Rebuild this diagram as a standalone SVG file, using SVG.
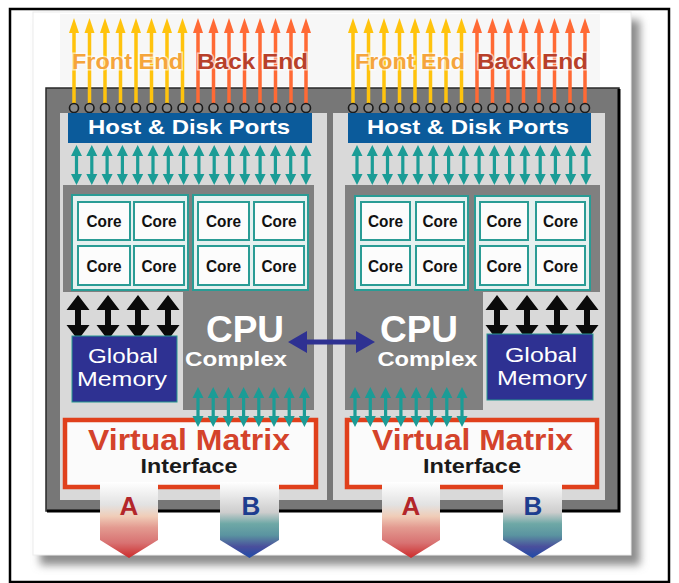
<svg xmlns="http://www.w3.org/2000/svg" xmlns:xlink="http://www.w3.org/1999/xlink" width="679" height="583" viewBox="0 0 679 583">
  <style>
    text { font-family: "Liberation Sans", Arial, sans-serif; }
    .port-lbl { font-size: 21px; font-weight: bold; fill: #ffffff; }
    .core-box { fill: #fcfcfc; stroke: #2a9c95; stroke-width: 2; }
    .core-grp { fill: #e6f1f0; stroke: #2a9c95; stroke-width: 2; }
    .core-lbl { font-size: 16px; font-weight: bold; fill: #111111; text-anchor: middle; }
    .cpu-big { font-size: 37px; font-weight: bold; fill: #ffffff; text-anchor: middle; }
    .cpu-small { font-size: 20px; fill: #ffffff; font-weight: bold; text-anchor: middle; }
    .mem-box { fill: #2e3192; stroke: #27988f; stroke-width: 1; }
    .mem-lbl { font-size: 21px; fill: #ffffff; text-anchor: middle; }
    .vm-box { fill: #fbfbfb; stroke: #e0401c; stroke-width: 4.5; }
    .vm-big { font-size: 29px; font-weight: bold; fill: #d4432b; text-anchor: middle; }
    .vm-small { font-size: 20px; font-weight: bold; fill: #1a1a1a; text-anchor: middle; }
    .end-lbl { font-size: 22px; font-weight: bold; stroke: #ffffff; stroke-opacity: 0.6; stroke-width: 3; paint-order: stroke; }
    .ab-lbl { font-size: 26px; font-weight: bold; text-anchor: middle; }
    .port-dot { fill: #8a8a8a; stroke: #1a1a1a; stroke-width: 1.6; }
    .light { fill: #d9d9d9; }
    .cpu-fill { fill: #808080; }
  </style>
  <defs>
    <filter id="card-shadow" x="-10%" y="-10%" width="120%" height="120%">
      <feGaussianBlur stdDeviation="4"/>
    </filter>
    <linearGradient id="grad-a" x1="0" y1="0" x2="0" y2="1">
      <stop offset="0" stop-color="#ffffff"/>
      <stop offset="0.3" stop-color="#e2e2e2"/>
      <stop offset="0.45" stop-color="#f0cdb8"/>
      <stop offset="0.6" stop-color="#e39a90"/>
      <stop offset="0.8" stop-color="#d87272"/>
      <stop offset="1" stop-color="#cc2a2a"/>
    </linearGradient>
    <linearGradient id="grad-b" x1="0" y1="0" x2="0" y2="1">
      <stop offset="0" stop-color="#ffffff"/>
      <stop offset="0.4" stop-color="#cdcdcd"/>
      <stop offset="0.55" stop-color="#6ea8a6"/>
      <stop offset="0.7" stop-color="#5a94a0"/>
      <stop offset="0.85" stop-color="#4a4f9c"/>
      <stop offset="1" stop-color="#1f4aa8"/>
    </linearGradient>
    <!-- upward port arrows -->
    <g id="up-yellow" fill="#ffc30d">
      <rect x="-1.75" y="31" width="3.5" height="76"/>
      <path d="M-5,33 L0,18 L5,33 Z"/>
    </g>
    <g id="up-orange" fill="#ff6a35">
      <rect x="-1.75" y="31" width="3.5" height="76"/>
      <path d="M-5,33 L0,18 L5,33 Z"/>
    </g>
    <!-- teal two-way link -->
    <g id="teal-dbl" fill="#1b9c96">
      <rect x="-1.6" y="152" width="3.2" height="26"/>
      <path d="M-5.5,156 L0,145 L5.5,156 Z M-5.5,174 L0,185 L5.5,174 Z"/>
    </g>
    <!-- black two-way memory link -->
    <g id="blk-dbl" fill="#0a0a0a">
      <rect x="-3" y="306" width="6" height="24"/>
      <path d="M-11.5,310 L0,295 L11.5,310 Z M-11.5,325 L0,340 L11.5,325 Z"/>
    </g>
  </defs>

  <!-- outer frame -->
  <rect x="0" y="0" width="679" height="583" fill="#ffffff"/>
  <rect x="10" y="9" width="659" height="573" fill="none" stroke="#000000" stroke-width="2.5"/>

  <!-- card with soft shadow -->
  <rect x="40" y="20" width="600" height="545" fill="#8c8c8c" filter="url(#card-shadow)"/>
  <rect x="33" y="12" width="598" height="543" fill="#ffffff" stroke="#ececec" stroke-width="1"/>
  <rect x="60" y="14" width="540" height="72" fill="#f7f7f7"/>

  <!-- chassis panel -->
  <g id="chassis">
    <rect x="46" y="88" width="573" height="423" fill="#777777" stroke="#2a2a2a" stroke-width="1.5"/>
    <path d="M619,89 V511 H47" fill="none" stroke="#000000" stroke-width="3"/>
    <rect class="light" x="60" y="113" width="267" height="387"/>
    <rect class="light" x="333" y="113" width="272" height="387"/>
    <path class="cpu-fill" d="M63,185 H314 V410 H183 V292 H63 Z"/>
    <path class="cpu-fill" d="M345,185 H600 V292 H483 V410 H345 Z"/>
  </g>

  <!-- connectors -->
  <g id="connectors">
    <!-- front end / back end port arrows, left director -->
    <use xlink:href="#up-yellow" x="74"/>
    <use xlink:href="#up-yellow" x="89.5"/>
    <use xlink:href="#up-yellow" x="105"/>
    <use xlink:href="#up-yellow" x="120.5"/>
    <use xlink:href="#up-yellow" x="136"/>
    <use xlink:href="#up-yellow" x="151.5"/>
    <use xlink:href="#up-yellow" x="167"/>
    <use xlink:href="#up-yellow" x="182.5"/>
    <use xlink:href="#up-orange" x="198"/>
    <use xlink:href="#up-orange" x="213.5"/>
    <use xlink:href="#up-orange" x="229"/>
    <use xlink:href="#up-orange" x="244.5"/>
    <use xlink:href="#up-orange" x="260"/>
    <use xlink:href="#up-orange" x="275.5"/>
    <use xlink:href="#up-orange" x="291"/>
    <use xlink:href="#up-orange" x="306"/>
    <!-- right director -->
    <use xlink:href="#up-yellow" x="353"/>
    <use xlink:href="#up-yellow" x="368.5"/>
    <use xlink:href="#up-yellow" x="384"/>
    <use xlink:href="#up-yellow" x="399.5"/>
    <use xlink:href="#up-yellow" x="415"/>
    <use xlink:href="#up-yellow" x="430.5"/>
    <use xlink:href="#up-yellow" x="446"/>
    <use xlink:href="#up-yellow" x="461.5"/>
    <use xlink:href="#up-orange" x="477"/>
    <use xlink:href="#up-orange" x="492.5"/>
    <use xlink:href="#up-orange" x="508"/>
    <use xlink:href="#up-orange" x="523.5"/>
    <use xlink:href="#up-orange" x="539"/>
    <use xlink:href="#up-orange" x="554.5"/>
    <use xlink:href="#up-orange" x="570"/>
    <use xlink:href="#up-orange" x="585"/>

    <!-- port sockets -->
    <g>
      <circle class="port-dot" cx="74" cy="108" r="4.5"/>
      <circle class="port-dot" cx="89.5" cy="108" r="4.5"/>
      <circle class="port-dot" cx="105" cy="108" r="4.5"/>
      <circle class="port-dot" cx="120.5" cy="108" r="4.5"/>
      <circle class="port-dot" cx="136" cy="108" r="4.5"/>
      <circle class="port-dot" cx="151.5" cy="108" r="4.5"/>
      <circle class="port-dot" cx="167" cy="108" r="4.5"/>
      <circle class="port-dot" cx="182.5" cy="108" r="4.5"/>
      <circle class="port-dot" cx="198" cy="108" r="4.5"/>
      <circle class="port-dot" cx="213.5" cy="108" r="4.5"/>
      <circle class="port-dot" cx="229" cy="108" r="4.5"/>
      <circle class="port-dot" cx="244.5" cy="108" r="4.5"/>
      <circle class="port-dot" cx="260" cy="108" r="4.5"/>
      <circle class="port-dot" cx="275.5" cy="108" r="4.5"/>
      <circle class="port-dot" cx="291" cy="108" r="4.5"/>
      <circle class="port-dot" cx="306" cy="108" r="4.5"/>
      <circle class="port-dot" cx="353" cy="108" r="4.5"/>
      <circle class="port-dot" cx="368.5" cy="108" r="4.5"/>
      <circle class="port-dot" cx="384" cy="108" r="4.5"/>
      <circle class="port-dot" cx="399.5" cy="108" r="4.5"/>
      <circle class="port-dot" cx="415" cy="108" r="4.5"/>
      <circle class="port-dot" cx="430.5" cy="108" r="4.5"/>
      <circle class="port-dot" cx="446" cy="108" r="4.5"/>
      <circle class="port-dot" cx="461.5" cy="108" r="4.5"/>
      <circle class="port-dot" cx="477" cy="108" r="4.5"/>
      <circle class="port-dot" cx="492.5" cy="108" r="4.5"/>
      <circle class="port-dot" cx="508" cy="108" r="4.5"/>
      <circle class="port-dot" cx="523.5" cy="108" r="4.5"/>
      <circle class="port-dot" cx="539" cy="108" r="4.5"/>
      <circle class="port-dot" cx="554.5" cy="108" r="4.5"/>
      <circle class="port-dot" cx="570" cy="108" r="4.5"/>
      <circle class="port-dot" cx="585" cy="108" r="4.5"/>
    </g>

    <!-- port block to CPU links, left -->
    <use xlink:href="#teal-dbl" x="76.5"/>
    <use xlink:href="#teal-dbl" x="91.8"/>
    <use xlink:href="#teal-dbl" x="107.1"/>
    <use xlink:href="#teal-dbl" x="122.4"/>
    <use xlink:href="#teal-dbl" x="137.7"/>
    <use xlink:href="#teal-dbl" x="153"/>
    <use xlink:href="#teal-dbl" x="168.3"/>
    <use xlink:href="#teal-dbl" x="183.6"/>
    <use xlink:href="#teal-dbl" x="198.9"/>
    <use xlink:href="#teal-dbl" x="214.2"/>
    <use xlink:href="#teal-dbl" x="229.5"/>
    <use xlink:href="#teal-dbl" x="244.8"/>
    <use xlink:href="#teal-dbl" x="260.1"/>
    <use xlink:href="#teal-dbl" x="275.4"/>
    <use xlink:href="#teal-dbl" x="290.7"/>
    <use xlink:href="#teal-dbl" x="306"/>
    <!-- right -->
    <use xlink:href="#teal-dbl" x="357"/>
    <use xlink:href="#teal-dbl" x="372.3"/>
    <use xlink:href="#teal-dbl" x="387.5"/>
    <use xlink:href="#teal-dbl" x="402.8"/>
    <use xlink:href="#teal-dbl" x="418"/>
    <use xlink:href="#teal-dbl" x="433.3"/>
    <use xlink:href="#teal-dbl" x="448.6"/>
    <use xlink:href="#teal-dbl" x="463.8"/>
    <use xlink:href="#teal-dbl" x="479.1"/>
    <use xlink:href="#teal-dbl" x="494.4"/>
    <use xlink:href="#teal-dbl" x="509.6"/>
    <use xlink:href="#teal-dbl" x="524.9"/>
    <use xlink:href="#teal-dbl" x="540.2"/>
    <use xlink:href="#teal-dbl" x="555.4"/>
    <use xlink:href="#teal-dbl" x="570.7"/>
    <use xlink:href="#teal-dbl" x="586"/>

    <!-- memory links -->
    <use xlink:href="#blk-dbl" x="78"/>
    <use xlink:href="#blk-dbl" x="108"/>
    <use xlink:href="#blk-dbl" x="138"/>
    <use xlink:href="#blk-dbl" x="168"/>
    <use xlink:href="#blk-dbl" x="497"/>
    <use xlink:href="#blk-dbl" x="527"/>
    <use xlink:href="#blk-dbl" x="557"/>
    <use xlink:href="#blk-dbl" x="587"/>

    <!-- CPU to CPU link -->
    <path d="M288,342 L307,331 L307,339.5 L356,339.5 L356,331 L375,342 L356,353 L356,344.5 L307,344.5 L307,353 Z" fill="#2e3192"/>
  </g>

  <!-- port block labels -->
  <g id="port-labels">
    <text class="end-lbl" x="72" y="69" fill="#f5a53c" textLength="111" lengthAdjust="spacingAndGlyphs">Front End</text>
    <text class="end-lbl" x="197" y="69" fill="#b8402a" textLength="111" lengthAdjust="spacingAndGlyphs">Back End</text>
    <text class="end-lbl" x="355" y="69" fill="#f5a53c" textLength="110" lengthAdjust="spacingAndGlyphs">Front End</text>
    <text class="end-lbl" x="477" y="69" fill="#b8402a" textLength="111" lengthAdjust="spacingAndGlyphs">Back End</text>
  </g>

  <!-- host & disk ports -->
  <g id="ports-left">
    <rect x="68" y="113" width="244" height="30" fill="#0b5b9b"/>
    <text class="port-lbl" x="88" y="133.5" textLength="202" lengthAdjust="spacingAndGlyphs">Host &amp; Disk Ports</text>
  </g>
  <g id="ports-right">
    <rect x="348" y="113" width="243" height="30" fill="#0b5b9b"/>
    <text class="port-lbl" x="367" y="133.5" textLength="202" lengthAdjust="spacingAndGlyphs">Host &amp; Disk Ports</text>
  </g>

  <!-- processor cores, left -->
  <g id="cores-left">
    <rect class="core-grp" x="72" y="195" width="116" height="95"/>
    <rect class="core-grp" x="193" y="195" width="115" height="95"/>
    <rect class="core-box" x="78" y="202" width="52" height="38"/>
    <rect class="core-box" x="134" y="202" width="50" height="38"/>
    <rect class="core-box" x="198" y="202" width="51" height="38"/>
    <rect class="core-box" x="254" y="202" width="50" height="38"/>
    <rect class="core-box" x="78" y="246" width="52" height="39"/>
    <rect class="core-box" x="134" y="246" width="50" height="39"/>
    <rect class="core-box" x="198" y="246" width="51" height="39"/>
    <rect class="core-box" x="254" y="246" width="50" height="39"/>
    <text class="core-lbl" x="104" y="227" textLength="35" lengthAdjust="spacingAndGlyphs">Core</text>
    <text class="core-lbl" x="159" y="227" textLength="35" lengthAdjust="spacingAndGlyphs">Core</text>
    <text class="core-lbl" x="223.5" y="227" textLength="35" lengthAdjust="spacingAndGlyphs">Core</text>
    <text class="core-lbl" x="279" y="227" textLength="35" lengthAdjust="spacingAndGlyphs">Core</text>
    <text class="core-lbl" x="104" y="272" textLength="35" lengthAdjust="spacingAndGlyphs">Core</text>
    <text class="core-lbl" x="159" y="272" textLength="35" lengthAdjust="spacingAndGlyphs">Core</text>
    <text class="core-lbl" x="223.5" y="272" textLength="35" lengthAdjust="spacingAndGlyphs">Core</text>
    <text class="core-lbl" x="279" y="272" textLength="35" lengthAdjust="spacingAndGlyphs">Core</text>
  </g>

  <!-- processor cores, right -->
  <g id="cores-right">
    <rect class="core-grp" x="355" y="196" width="113" height="94"/>
    <rect class="core-grp" x="475" y="196" width="115" height="94"/>
    <rect class="core-box" x="361" y="202" width="49" height="38"/>
    <rect class="core-box" x="416" y="202" width="48" height="38"/>
    <rect class="core-box" x="480" y="202" width="48" height="38"/>
    <rect class="core-box" x="536" y="202" width="49" height="38"/>
    <rect class="core-box" x="361" y="246" width="49" height="39"/>
    <rect class="core-box" x="416" y="246" width="48" height="39"/>
    <rect class="core-box" x="480" y="246" width="48" height="39"/>
    <rect class="core-box" x="536" y="246" width="49" height="39"/>
    <text class="core-lbl" x="385.5" y="227" textLength="35" lengthAdjust="spacingAndGlyphs">Core</text>
    <text class="core-lbl" x="440" y="227" textLength="35" lengthAdjust="spacingAndGlyphs">Core</text>
    <text class="core-lbl" x="504" y="227" textLength="35" lengthAdjust="spacingAndGlyphs">Core</text>
    <text class="core-lbl" x="560.5" y="227" textLength="35" lengthAdjust="spacingAndGlyphs">Core</text>
    <text class="core-lbl" x="385.5" y="272" textLength="35" lengthAdjust="spacingAndGlyphs">Core</text>
    <text class="core-lbl" x="440" y="272" textLength="35" lengthAdjust="spacingAndGlyphs">Core</text>
    <text class="core-lbl" x="504" y="272" textLength="35" lengthAdjust="spacingAndGlyphs">Core</text>
    <text class="core-lbl" x="560.5" y="272" textLength="35" lengthAdjust="spacingAndGlyphs">Core</text>
  </g>

  <!-- CPU complex labels -->
  <g id="cpu-left">
    <text class="cpu-big" x="245" y="342">CPU</text>
    <text class="cpu-small" x="236" y="366" textLength="102" lengthAdjust="spacingAndGlyphs">Complex</text>
  </g>
  <g id="cpu-right">
    <text class="cpu-big" x="419" y="342">CPU</text>
    <text class="cpu-small" x="427.5" y="366" textLength="100" lengthAdjust="spacingAndGlyphs">Complex</text>
  </g>

  <!-- global memory -->
  <g id="memory-left">
    <rect class="mem-box" x="72" y="336" width="105" height="66"/>
    <text class="mem-lbl" x="123" y="363" textLength="70" lengthAdjust="spacingAndGlyphs">Global</text>
    <text class="mem-lbl" x="122" y="386" textLength="90" lengthAdjust="spacingAndGlyphs">Memory</text>
  </g>
  <g id="memory-right">
    <rect class="mem-box" x="487" y="334" width="106" height="66"/>
    <text class="mem-lbl" x="541" y="362" textLength="72" lengthAdjust="spacingAndGlyphs">Global</text>
    <text class="mem-lbl" x="542" y="385" textLength="90" lengthAdjust="spacingAndGlyphs">Memory</text>
  </g>

  <!-- virtual matrix interface -->
  <g id="vmi-left">
    <rect class="vm-box" x="65" y="420" width="251" height="67"/>
    <text class="vm-big" x="189" y="450" textLength="202" lengthAdjust="spacingAndGlyphs">Virtual Matrix</text>
    <text class="vm-small" x="189" y="473" textLength="97" lengthAdjust="spacingAndGlyphs">Interface</text>
  </g>
  <g id="vmi-right">
    <rect class="vm-box" x="347" y="420" width="250" height="67"/>
    <text class="vm-big" x="472.5" y="450" textLength="201" lengthAdjust="spacingAndGlyphs">Virtual Matrix</text>
    <text class="vm-small" x="472" y="473" textLength="98" lengthAdjust="spacingAndGlyphs">Interface</text>
  </g>

  <!-- CPU to matrix links (drawn over the interface edge) -->
  <g id="connectors-matrix">
    <use xlink:href="#teal-dbl" x="198" y="242"/>
    <use xlink:href="#teal-dbl" x="213.2" y="242"/>
    <use xlink:href="#teal-dbl" x="228.4" y="242"/>
    <use xlink:href="#teal-dbl" x="243.6" y="242"/>
    <use xlink:href="#teal-dbl" x="258.8" y="242"/>
    <use xlink:href="#teal-dbl" x="274" y="242"/>
    <use xlink:href="#teal-dbl" x="289.2" y="242"/>
    <use xlink:href="#teal-dbl" x="304.4" y="242"/>
    <use xlink:href="#teal-dbl" x="355" y="242"/>
    <use xlink:href="#teal-dbl" x="370.3" y="242"/>
    <use xlink:href="#teal-dbl" x="385.6" y="242"/>
    <use xlink:href="#teal-dbl" x="400.9" y="242"/>
    <use xlink:href="#teal-dbl" x="416.2" y="242"/>
    <use xlink:href="#teal-dbl" x="431.5" y="242"/>
    <use xlink:href="#teal-dbl" x="446.8" y="242"/>
    <use xlink:href="#teal-dbl" x="462" y="242"/>
  </g>

  <!-- matrix channels A / B -->
  <g id="channel-a-left">
    <path d="M100,482 H158 V540 L129,558 L100,540 Z" fill="url(#grad-a)"/>
    <text class="ab-lbl" x="129" y="515" fill="#b3262a">A</text>
  </g>
  <g id="channel-b-left">
    <path d="M220,482 H279 V540 L249.5,558 L220,540 Z" fill="url(#grad-b)"/>
    <text class="ab-lbl" x="251" y="515" fill="#1d3d8f">B</text>
  </g>
  <g id="channel-a-right">
    <path d="M382,482 H440 V540 L411,558 L382,540 Z" fill="url(#grad-a)"/>
    <text class="ab-lbl" x="411" y="515" fill="#b3262a">A</text>
  </g>
  <g id="channel-b-right">
    <path d="M503,482 H562 V540 L532.5,558 L503,540 Z" fill="url(#grad-b)"/>
    <text class="ab-lbl" x="533" y="515" fill="#1d3d8f">B</text>
  </g>
</svg>
